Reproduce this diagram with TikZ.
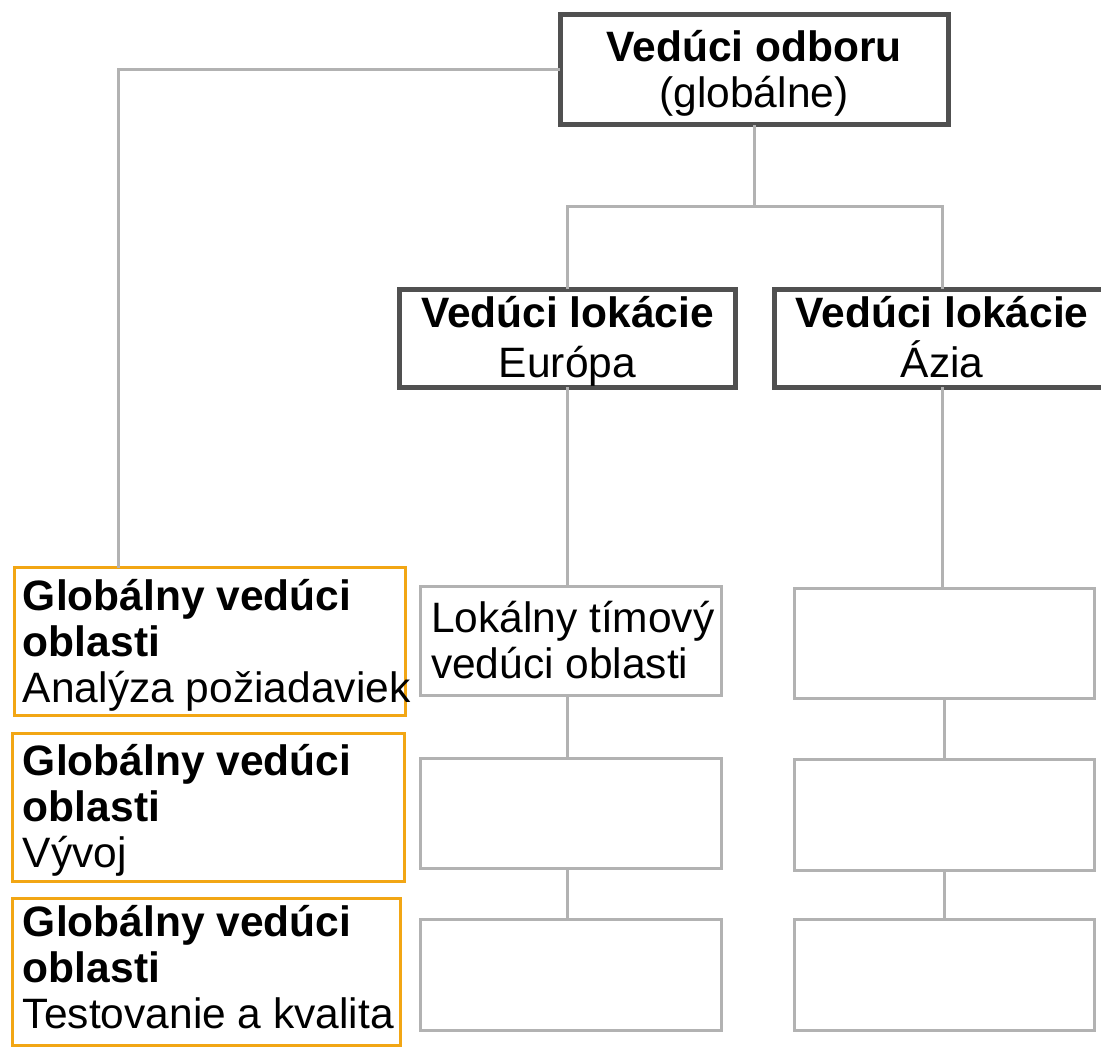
\documentclass[tikz,border=0pt]{standalone}
\usepackage{fontspec}
\setmainfont{Liberation Sans}
\definecolor{leadgray}{RGB}{80,80,80}
\definecolor{linkgray}{RGB}{178,178,178}
\definecolor{areaorange}{RGB}{242,166,20}
\begin{document}
\begin{tikzpicture}[x=1pt,y=-1pt,
  every node/.style={inner sep=0pt, outer sep=0pt},
  leadbox/.style={draw=leadgray, line width=5pt, rectangle, fill=white},
  localbox/.style={draw=linkgray, line width=3pt, rectangle, fill=white},
  areabox/.style={draw=areaorange, line width=3pt, rectangle, fill=white},
  link/.style={draw=linkgray, line width=3pt},
  label/.style={font=\fontsize{42.5}{46}\selectfont, text=black},
  locband/.style={font=\fontsize{42.5}{50}\selectfont, text=black}]
\useasboundingbox (0,0) rectangle (1101,1048);

% junction of the location branches
\coordinate (bus) at (754,207);

% boxes
\node[leadbox, minimum width=388pt, minimum height=110pt] (head) at (754,70) {};
\node[leadbox, minimum width=336pt, minimum height=98pt] (eu) at (567.5,338.5) {};
\node[leadbox, minimum width=336pt, minimum height=98pt] (as) at (942.5,338.5) {};

\node[localbox, minimum width=301pt, minimum height=109pt] (m1) at (571,641) {};
\node[localbox, minimum width=301pt, minimum height=110pt] (m2) at (571,813.5) {};
\node[localbox, minimum width=301pt, minimum height=111pt] (m3) at (571,975) {};

\node[localbox, minimum width=300pt, minimum height=110pt] (r1) at (944.5,643.5) {};
\node[localbox, minimum width=300pt, minimum height=111pt] (r2) at (944.5,815) {};
\node[localbox, minimum width=300pt, minimum height=111pt] (r3) at (944.5,975) {};

\node[areabox, minimum width=391pt, minimum height=148pt] (g1) at (210,641.5) {};
\node[areabox, minimum width=392pt, minimum height=148pt] (g2) at (208.5,807.5) {};
\node[areabox, minimum width=388pt, minimum height=147pt] (g3) at (206.5,972) {};

% connectors between boxes
\draw[link] (head.west) -| ([xshift=103.5pt]g1.north west);
\draw[link] (head.south) -- (bus);
\draw[link] (eu.north) |- (bus) -| (as.north);
\draw[link] (eu.south) -- (eu.south |- m1.north);
\draw[link] (m1.south -| eu.south) -- (m2.north -| eu.south);
\draw[link] (m2.south -| eu.south) -- (m3.north -| eu.south);
\draw[link] (as.south) -- (as.south |- r1.north);
\draw[link] (r1.south) -- (r2.north);
\draw[link] (r2.south) -- (r3.north);

% texts (anchored on the baseline of the last line)
\node[label, align=center, anchor=base] (headtext) at (754,108)
  {\textbf{Vedúci odboru}\\(globálne)};
\node[locband, align=center, anchor=base] (eutext) at (567.5,378)
  {\textbf{Vedúci lokácie}\\Európa};
\node[locband, align=center, anchor=base] (astext) at (942,378)
  {\textbf{Vedúci lokácie}\\Ázia};
\node[label, align=left, anchor=base west] (m1text) at (431,678)
  {Lokálny tímový\\vedúci oblasti};
\node[label, align=left, anchor=base west] (g1text) at (23,702)
  {\textbf{Globálny vedúci}\\\textbf{oblasti}\\Analýza požiadaviek};
\node[label, align=left, anchor=base west] (g2text) at (23,867)
  {\textbf{Globálny vedúci}\\\textbf{oblasti}\\Vývoj};
\node[label, align=left, anchor=base west] (g3text) at (23,1028)
  {\textbf{Globálny vedúci}\\\textbf{oblasti}\\Testovanie a kvalita};
\end{tikzpicture}
\end{document}
